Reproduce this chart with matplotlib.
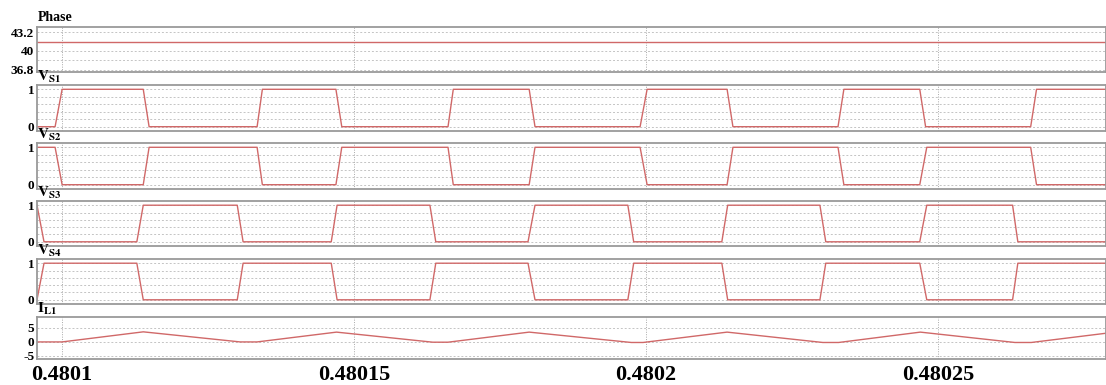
import numpy as np
import matplotlib
matplotlib.use("Agg")
import matplotlib.pyplot as plt
from matplotlib.ticker import FixedLocator

plt.rcParams['font.family'] = ['Liberation Serif', 'DejaVu Serif']
plt.rcParams['font.weight'] = 'bold'
plt.rcParams['mathtext.fontset'] = 'stix'

# time axis: microseconds after 0.4801 s
T0 = 0.4801
t_start, t_end = -4.3, 178.8
x_ticks = [0.4801, 0.48015, 0.4802, 0.48025]
x_tick_labels = ['0.4801', '0.48015', '0.4802', '0.48025']

# Phase (deg)
phase_t = [-4.3, 178.8]
phase_v = [41.6, 41.6]

# gate signals, breakpoints
vs1_t = [-4.3, -1.2, 0.0, 13.9, 14.9, 33.4, 34.3, 46.9, 47.9, 66.1, 67.0, 80.0, 81.0,
         99.0, 100.2, 113.9, 114.9, 132.9, 133.9, 146.9, 147.9, 165.9, 166.9, 178.8]
vs1_v = [0, 0, 1, 1, 0, 0, 1, 1, 0, 0, 1, 1, 0, 0, 1, 1, 0, 0, 1, 1, 0, 0, 1, 1]

vs2_t = [-4.3, -1.2, 0.0, 13.9, 14.9, 33.4, 34.3, 46.9, 47.9, 66.1, 67.0, 80.0, 81.0,
         99.0, 100.2, 113.9, 114.9, 132.9, 133.9, 146.9, 148.1, 165.9, 166.9, 178.8]
vs2_v = [1, 1, 0, 0, 1, 1, 0, 0, 1, 1, 0, 0, 1, 1, 0, 0, 1, 1, 0, 0, 1, 1, 0, 0]

vs3_t = [-4.3, -3.1, 12.8, 13.9, 30.0, 31.0, 46.1, 47.1, 63.0, 64.0, 79.8, 81.0,
         96.9, 97.9, 113.0, 114.0, 129.8, 130.8, 146.9, 148.1, 162.8, 163.7, 178.8]
vs3_v = [1, 0, 0, 1, 1, 0, 0, 1, 1, 0, 0, 1, 1, 0, 0, 1, 1, 0, 0, 1, 1, 0, 0]

vs4_t = [-4.3, -3.1, 12.8, 13.9, 30.0, 31.0, 46.1, 47.1, 63.0, 64.0, 79.8, 81.0,
         96.9, 97.9, 113.0, 114.0, 129.8, 130.8, 146.9, 148.1, 162.8, 163.7, 178.8]
vs4_v = [0, 1, 1, 0, 0, 1, 1, 0, 0, 1, 1, 0, 0, 1, 1, 0, 0, 1, 1, 0, 0, 1, 1]

# inductor current (A)
il1_t = [-4.3, 0.0, 13.9, 30.5, 33.4, 47.0, 63.5, 66.1, 80.0, 97.5, 99.5,
         113.9, 130.3, 133.0, 147.0, 163.2, 166.0, 178.8]
il1_v = [0.0, 0.0, 3.6, 0.0, 0.0, 3.5, -0.1, -0.1, 3.5, -0.2, -0.2,
         3.5, -0.2, -0.2, 3.5, -0.2, -0.2, 3.1]

sw_grid = np.arange(0, 1.01, 0.2)
panels = [
    ('Phase', phase_t, phase_v, (36.45, 44.05), [36.8, 40, 43.2], ['36.8', '40', '43.2'],
     [36.8, 38.4, 40, 41.6, 43.2]),
    (r'$\mathbf{V_{S1}}$', vs1_t, vs1_v, (-0.115, 1.115), [0, 1], ['0', '1'], sw_grid),
    (r'$\mathbf{V_{S2}}$', vs2_t, vs2_v, (-0.115, 1.115), [0, 1], ['0', '1'], sw_grid),
    (r'$\mathbf{V_{S3}}$', vs3_t, vs3_v, (-0.115, 1.115), [0, 1], ['0', '1'], sw_grid),
    (r'$\mathbf{V_{S4}}$', vs4_t, vs4_v, (-0.115, 1.115), [0, 1], ['0', '1'], sw_grid),
    (r'$\mathbf{I_{L1}}$', il1_t, il1_v, (-6.1, 8.9), [-5, 0, 5], ['-5', '0', '5'], [-5, 0, 5]),
]

# panel frames in pixels (top, bottom)
W, H = 1106, 385
frames = [(27, 72), (85, 131), (143, 189), (201, 246), (259, 304), (317, 359)]
left_px = 37

fig = plt.figure(figsize=(W / 100, H / 100), dpi=100)
line_col = '#d06868'
grid_col = '#c4c4c4'

for i, (name, t, v, ylim, yt, ytl, yg) in enumerate(panels):
    top, bot = frames[i]
    ax = fig.add_axes([left_px / W, 1 - bot / H, 1 - left_px / W, (bot - top) / H])
    ax.plot(T0 + np.array(t) * 1e-6, v, color=line_col, lw=1.0)
    ax.set_xlim(T0 + t_start * 1e-6, T0 + t_end * 1e-6)
    ax.set_ylim(*ylim)
    ax.set_yticks(yt)
    ax.set_yticklabels(ytl)
    ax.yaxis.set_minor_locator(FixedLocator(yg))
    ax.set_xticks(x_ticks)
    for g in yg:
        ax.axhline(g, color=grid_col, lw=0.7, ls=(0, (2, 2)), zorder=0)
    for xt in x_ticks:
        ax.axvline(xt, color='#a8a8a8', lw=0.7, ls=(0, (1, 1.5)), zorder=0)
    ax.tick_params(axis='both', which='both', length=0)
    ax.tick_params(axis='y', labelsize=9.5, pad=2)
    for s in ax.spines.values():
        s.set_color('#9a9a9a')
        s.set_linewidth(1.3)
    if i == len(panels) - 1:
        ax.set_xticklabels(x_tick_labels, fontsize=16, fontweight='bold')
        ax.tick_params(axis='x', pad=4)
    else:
        ax.set_xticklabels([])
    for lab in ax.get_yticklabels():
        lab.set_fontweight('bold')
    if i == 0:
        ax.text(0.001, 1.06, name, transform=ax.transAxes, ha='left', va='bottom',
                fontsize=10, fontweight='bold')
    else:
        ax.text(0.0, 0.99, name, transform=ax.transAxes, ha='left', va='bottom',
                fontsize=11)

fig.savefig('out.png', dpi=100)
